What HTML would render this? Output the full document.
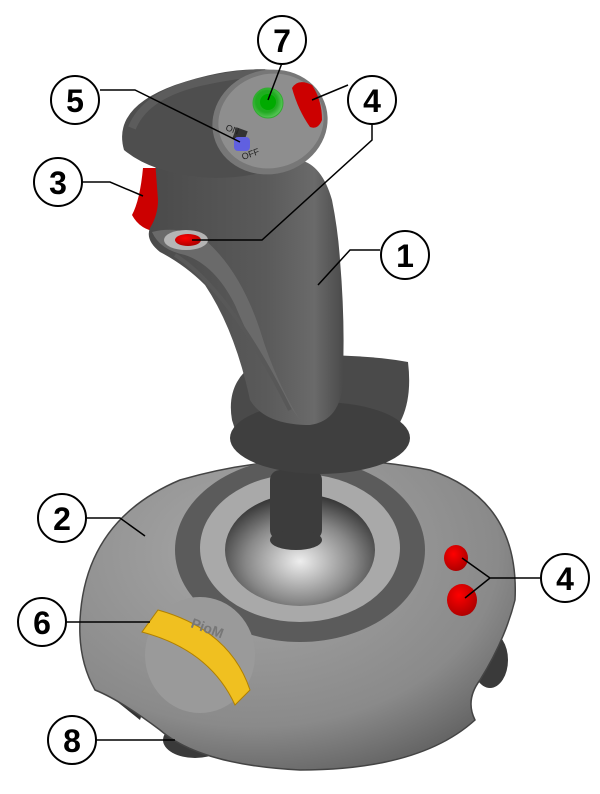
<!DOCTYPE html>
<html><head><meta charset="utf-8"><style>html,body{margin:0;padding:0;background:#fff}svg{display:block}</style></head>
<body>
<svg width="600" height="794" viewBox="0 0 600 794" xmlns="http://www.w3.org/2000/svg">
<defs>
<radialGradient id="base" cx="0.4" cy="0.3" r="0.8"><stop offset="0" stop-color="#a8a8a8"/><stop offset="0.7" stop-color="#8a8a8a"/><stop offset="1" stop-color="#5a5a5a"/></radialGradient>
<linearGradient id="handle" x1="0" y1="0" x2="1" y2="0"><stop offset="0" stop-color="#4a4a4a"/><stop offset="0.6" stop-color="#5a5a5a"/><stop offset="0.85" stop-color="#6a6a6a"/><stop offset="1" stop-color="#4a4a4a"/></linearGradient>
<radialGradient id="hole" cx="0.5" cy="0.6" r="0.6"><stop offset="0" stop-color="#eee"/><stop offset="0.6" stop-color="#888"/><stop offset="1" stop-color="#333"/></radialGradient>
<radialGradient id="red" cx="0.4" cy="0.35" r="0.7"><stop offset="0" stop-color="#f00"/><stop offset="1" stop-color="#a00"/></radialGradient>
<radialGradient id="green" cx="0.45" cy="0.45" r="0.6"><stop offset="0" stop-color="#1b1"/><stop offset="0.6" stop-color="#2a2"/><stop offset="1" stop-color="#6c6"/></radialGradient>
</defs>
<ellipse cx="490" cy="660" rx="18" ry="28" fill="#3a3a3a"/>
<ellipse cx="195" cy="740" rx="32" ry="18" fill="#3a3a3a"/>
<path d="M115 700 Q125 680 150 690 L140 720 Z" fill="#333"/>
<path d="M80 620 Q85 520 180 480 Q300 445 430 470 Q520 500 515 600 Q505 640 480 680 Q465 700 475 720 Q420 770 300 770 Q200 765 160 730 Q120 700 95 690 Q78 660 80 620 Z" fill="url(#base)" stroke="#444" stroke-width="1.5"/>
<ellipse cx="300" cy="550" rx="125" ry="92" fill="#5b5b5b"/>
<ellipse cx="300" cy="548" rx="100" ry="74" fill="#a9a9a9"/>
<ellipse cx="300" cy="550" rx="75" ry="56" fill="url(#hole)"/>
<rect x="270" y="470" width="52" height="70" rx="10" fill="#3c3c3c"/>
<ellipse cx="296" cy="540" rx="26" ry="10" fill="#3c3c3c"/>
<ellipse cx="200" cy="655" rx="55" ry="58" fill="#9a9a9a"/>
<path d="M158 610 Q230 630 250 690 L235 705 Q210 650 142 632 Z" fill="#f0c020" stroke="#b08000"/>
<text x="190" y="627" font-family="Liberation Sans,sans-serif" font-size="14" font-weight="bold" fill="#777" transform="rotate(20 190 627)">PioM</text>
<ellipse cx="456" cy="558" rx="12" ry="13" fill="url(#red)"/>
<ellipse cx="462" cy="600" rx="15" ry="16" fill="url(#red)"/>
<path d="M232 420 Q225 380 260 360 Q340 350 408 362 Q415 420 380 445 Q300 470 240 445 Z" fill="#4a4a4a"/>
<ellipse cx="320" cy="438" rx="90" ry="36" fill="#3f3f3f"/>
<path d="M143 168 L158 168 L158 232 Q140 230 132 215 Q140 200 143 168 Z" fill="#c00"/>
<path d="M155 160 L300 160 Q322 165 332 200 Q338 230 340 260 Q345 320 343 370 Q345 420 310 425 Q265 425 250 400 Q235 330 205 285 Q185 265 160 252 Q145 240 150 228 Q158 215 158 200 Z" fill="url(#handle)"/>
<path d="M152 232 Q180 225 205 240 Q240 270 260 330 Q275 380 300 420 Q262 370 235 305 Q215 265 185 255 Q160 250 152 232 Z" fill="#6a6a6a"/>
<path d="M175 255 Q230 290 290 410" stroke="#585858" stroke-width="4" fill="none"/>
<path d="M124 150 Q112 108 175 85 Q230 66 272 70 L265 172 Q230 180 200 177 Q150 172 124 150 Z" fill="#4e4e4e"/>
<path d="M132 128 Q145 95 200 82 Q240 73 265 73" stroke="#666" stroke-width="8" fill="none" opacity="0.6"/>
<ellipse cx="270" cy="122" rx="58" ry="52" fill="#777" transform="rotate(-15 270 122)"/>
<ellipse cx="271" cy="121" rx="53" ry="47" fill="#8e8e8e" transform="rotate(-15 271 121)"/>
<circle cx="268" cy="103" r="15" fill="url(#green)" stroke="#3a3" stroke-width="1"/>
<circle cx="268" cy="102" r="8" fill="#0a0"/>
<path d="M292 88 Q298 78 312 85 Q322 100 322 120 Q318 130 310 127 Q298 110 292 88 Z" fill="#c00"/>
<rect x="234" y="129" width="12" height="12" fill="#333" transform="rotate(20 240 135)"/>
<rect x="234" y="137" width="16" height="14" rx="4" fill="#6060e0"/>
<text x="225" y="130" font-family="Liberation Sans,sans-serif" font-size="9" fill="#222" transform="rotate(20 225 130)">ON</text>
<text x="243" y="160" font-family="Liberation Sans,sans-serif" font-size="9" fill="#222" transform="rotate(-20 243 160)">OFF</text>
<ellipse cx="186" cy="240" rx="22" ry="10" fill="#b5b5b5"/>
<ellipse cx="188" cy="240" rx="13" ry="6" fill="url(#red)"/>
<g stroke="#000" stroke-width="1.5" fill="none">
<line x1="282" y1="63" x2="268" y2="100"/>
<path d="M100 90 L135 90 L240 142"/>
<path d="M348 85 L312 100"/>
<path d="M372 124 L372 140 L262 240 L192 240"/>
<path d="M82 182 L110 182 L143 196"/>
<path d="M380 250 L350 250 L318 285"/>
<path d="M86 518 L120 518 L145 536"/>
<path d="M540 578 L490 578 L462 558 M490 578 L465 598"/>
<path d="M66 622 L150 622"/>
<path d="M96 740 L175 740"/>
</g>
<g fill="#fff" stroke="#000" stroke-width="2">
<circle cx="282" cy="40" r="24"/><circle cx="75" cy="100" r="24"/><circle cx="372" cy="100" r="24"/>
<circle cx="58" cy="182" r="24"/><circle cx="405" cy="255" r="24"/><circle cx="62" cy="518" r="24"/>
<circle cx="565" cy="578" r="24"/><circle cx="42" cy="622" r="24"/><circle cx="72" cy="740" r="24"/>
</g>
<g font-family="Liberation Sans,sans-serif" font-size="32" font-weight="bold" text-anchor="middle" fill="#000">
<text x="282" y="52">7</text><text x="75" y="112">5</text><text x="372" y="112">4</text>
<text x="58" y="194">3</text><text x="405" y="267">1</text><text x="62" y="530">2</text>
<text x="565" y="590">4</text><text x="42" y="634">6</text><text x="72" y="752">8</text>
</g>
</svg>
</body></html>
